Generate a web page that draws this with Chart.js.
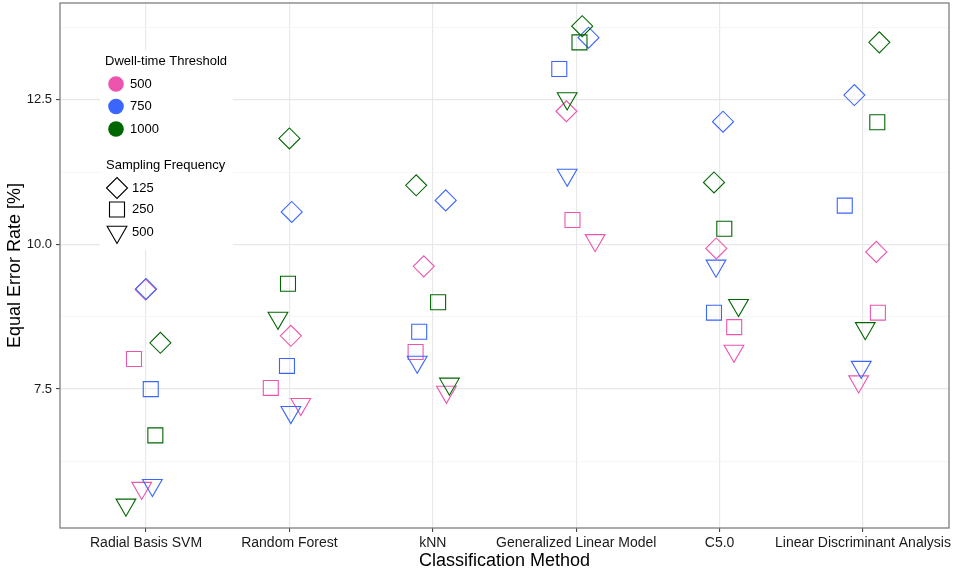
<!DOCTYPE html>
<html>
<head>
<meta charset="utf-8">
<script src="https://cdn.jsdelivr.net/npm/chart.js@4.4.1/dist/chart.umd.min.js"></script>
<style>
  html, body { margin: 0; padding: 0; background: #fff; }
  #wrap { width: 956px; height: 574px; }
</style>
</head>
<body>
<div id="wrap"><canvas id="eerChart" width="956" height="574"></canvas></div>
<script>
// categories on the x axis
const methods = ['Radial Basis SVM', 'Random Forest', 'kNN', 'Generalized Linear Model', 'C5.0', 'Linear Discriminant Analysis'];

// equal error rate [%] per method, one array per threshold / sampling frequency
const eer500_125 = [9.22, 8.42, 9.62, 12.30, 9.93, 9.87];
const eer500_250 = [8.02, 7.52, 8.14, 10.42, 8.57, 8.82];
const eer500_500 = [5.79, 7.24, 7.45, 10.07, 8.16, 7.63];
const eer750_125 = [9.23, 10.56, 10.76, 13.57, 12.12, 12.58];
const eer750_250 = [7.50, 7.90, 8.49, 13.03, 8.82, 10.67];
const eer750_500 = [5.84, 7.10, 7.97, 11.20, 9.63, 7.88];
const eer1000_125 = [8.30, 11.83, 11.02, 13.77, 11.07, 13.49];
const eer1000_250 = [6.70, 9.32, 9.00, 13.49, 10.27, 12.11];
const eer1000_500 = [5.50, 8.73, 7.59, 12.52, 8.95, 8.55];

// horizontal jitter (in category units)
const jit500_125 = [-0.003, 0.01, -0.063, -0.068, -0.023, 0.093];
const jit500_250 = [-0.084, -0.13, -0.12, -0.026, 0.102, 0.104];
const jit500_500 = [-0.03, 0.079, 0.095, 0.132, 0.10, -0.03];
const jit750_125 = [0.0, 0.016, 0.09, 0.086, 0.024, -0.06];
const jit750_250 = [0.033, -0.017, -0.095, -0.118, -0.039, -0.127];
const jit750_500 = [0.044, 0.01, -0.109, -0.063, -0.025, -0.012];
const jit1000_125 = [0.10, 0.0, -0.116, 0.042, -0.039, 0.114];
const jit1000_250 = [0.065, -0.01, 0.037, 0.023, 0.033, 0.10];
const jit1000_500 = [-0.14, -0.08, 0.116, -0.063, 0.132, 0.016];

const thresholds = ['500', '750', '1000'];
const frequencies = ['125', '250', '500'];
const yMajor = [7.5, 10.0, 12.5];
const yMinor = [6.25, 8.75, 11.25, 13.75];

const colors = { '500': '#ec55ae', '750': '#3a66ff', '1000': '#006600' };
const shapes = {
    '125': { pointStyle: 'rectRot', rotation: 0, radius: 10.5 },
    '250': { pointStyle: 'rect', rotation: 0, radius: 10.6 },
    '500': { pointStyle: 'triangle', rotation: 180, radius: 11.4 }
};

function makeSeries(thr, freq, values, jitter) {
    const s = shapes[freq];
    return {
        label: thr + ' / ' + freq,
        data: values.map((v, i) => ({ x: i + 1 + jitter[i], y: v })),
        pointStyle: s.pointStyle,
        rotation: s.rotation,
        pointRadius: s.radius,
        pointHoverRadius: s.radius,
        borderColor: colors[thr],
        backgroundColor: 'rgba(0,0,0,0)',
        borderWidth: 1.1,
        showLine: false
    };
}

// first dataset is painted last, so green sits on top
const datasets = [
    makeSeries('1000', '125', eer1000_125, jit1000_125),
    makeSeries('1000', '250', eer1000_250, jit1000_250),
    makeSeries('1000', '500', eer1000_500, jit1000_500),
    makeSeries('750', '125', eer750_125, jit750_125),
    makeSeries('750', '250', eer750_250, jit750_250),
    makeSeries('750', '500', eer750_500, jit750_500),
    makeSeries('500', '125', eer500_125, jit500_125),
    makeSeries('500', '250', eer500_250, jit500_250),
    makeSeries('500', '500', eer500_500, jit500_500)
];

const FONT = "'Liberation Sans', Arial, Helvetica, sans-serif";

function legendShape(ctx, shape, x, y) {
    const r = shapes[shape].radius;
    ctx.beginPath();
    if (shape === '125') {
        ctx.moveTo(x - r, y); ctx.lineTo(x, y - r); ctx.lineTo(x + r, y); ctx.lineTo(x, y + r);
    } else if (shape === '250') {
        const h = Math.SQRT1_2 * r;
        ctx.rect(x - h, y - h, 2 * h, 2 * h);
    } else {
        for (let k = 0; k < 3; k++) {
            const a = Math.PI + k * 2 * Math.PI / 3;
            const px = x + Math.sin(a) * r, py = y - Math.cos(a) * r;
            if (k === 0) ctx.moveTo(px, py); else ctx.lineTo(px, py);
        }
    }
    ctx.closePath();
    ctx.stroke();
}

const panelPlugin = {
    id: 'panel',
    afterDraw(chart) {
        const ctx = chart.ctx;
        const a = chart.chartArea;
        ctx.save();
        // legend inside the panel
        ctx.fillStyle = '#fff';
        ctx.fillRect(100, 50, 133, 200);
        ctx.fillStyle = '#000';
        ctx.textBaseline = 'middle';
        ctx.textAlign = 'left';
        ctx.font = '13px ' + FONT;
        ctx.fillText('Dwell-time Threshold', 105, 61.5);
        const cy = [84, 106.5, 129];
        thresholds.forEach((t, i) => {
            ctx.fillStyle = colors[t];
            ctx.beginPath();
            ctx.arc(116, cy[i], 7.8, 0, Math.PI * 2);
            ctx.fill();
            ctx.fillStyle = '#000';
            ctx.fillText(t, 130, cy[i]);
        });
        ctx.fillText('Sampling Frequency', 106, 165);
        const sy = [188, 209.5, 232];
        ctx.strokeStyle = '#000';
        ctx.lineWidth = 1.1;
        frequencies.forEach((f, i) => {
            legendShape(ctx, f, 117, sy[i]);
            ctx.fillText(f, 132, sy[i]);
        });
        // panel border
        ctx.strokeStyle = '#7f7f7f';
        ctx.lineWidth = 1.3;
        ctx.strokeRect(a.left, a.top, a.right - a.left, a.bottom - a.top);
        ctx.restore();
    }
};

const eerChart = new Chart(document.getElementById('eerChart'), {
    type: 'scatter',
    data: { datasets: datasets },
    options: {
        responsive: false,
        animation: false,
        layout: { autoPadding: false, padding: { top: 3, right: 7, left: 0, bottom: 0 } },
        plugins: {
            legend: { display: false },
            tooltip: { enabled: false }
        },
        scales: {
            x: {
                type: 'linear',
                min: 0.4,
                max: 6.6,
                afterBuildTicks: s => { s.ticks = methods.map((m, i) => ({ value: i + 1 })); },
                afterFit: s => { s.height = 46; s.paddingLeft = 0; s.paddingRight = 0; },
                ticks: {
                    autoSkip: false,
                    maxRotation: 0,
                    padding: 3,
                    color: '#1a1a1a',
                    font: { family: FONT, size: 14 },
                    callback: v => methods[Math.round(v) - 1]
                },
                grid: { color: '#e8e8e8', lineWidth: 1.2, tickLength: 4, tickColor: '#333', tickWidth: 1 },
                border: { display: false },
                title: {
                    display: true,
                    text: 'Classification Method',
                    color: '#000',
                    font: { family: FONT, size: 18 },
                    padding: { top: 0, bottom: 2 }
                }
            },
            y: {
                min: 5.1,
                max: 14.17,
                afterBuildTicks: s => {
                    s.ticks = yMajor.concat(yMinor).sort((p, q) => p - q).map(v => ({ value: v }));
                },
                afterFit: s => { s.width = 60; s.paddingTop = 0; s.paddingBottom = 0; },
                ticks: {
                    padding: 4,
                    color: '#1a1a1a',
                    font: { family: FONT, size: 13 },
                    callback: v => yMajor.includes(v) ? v.toFixed(1) : ''
                },
                grid: {
                    color: c => (c.tick && yMinor.includes(c.tick.value)) ? '#f4f4f4' : '#e8e8e8',
                    lineWidth: c => (c.tick && yMinor.includes(c.tick.value)) ? 0.8 : 1.2,
                    tickLength: 4,
                    tickColor: c => (c.tick && yMinor.includes(c.tick.value)) ? 'rgba(0,0,0,0)' : '#333',
                    tickWidth: 1
                },
                border: { display: false },
                title: {
                    display: true,
                    text: 'Equal Error Rate [%]',
                    color: '#000',
                    font: { family: FONT, size: 18 },
                    padding: { top: 4, bottom: 0 }
                }
            }
        }
    },
    plugins: [panelPlugin]
});
</script>
</body>
</html>
